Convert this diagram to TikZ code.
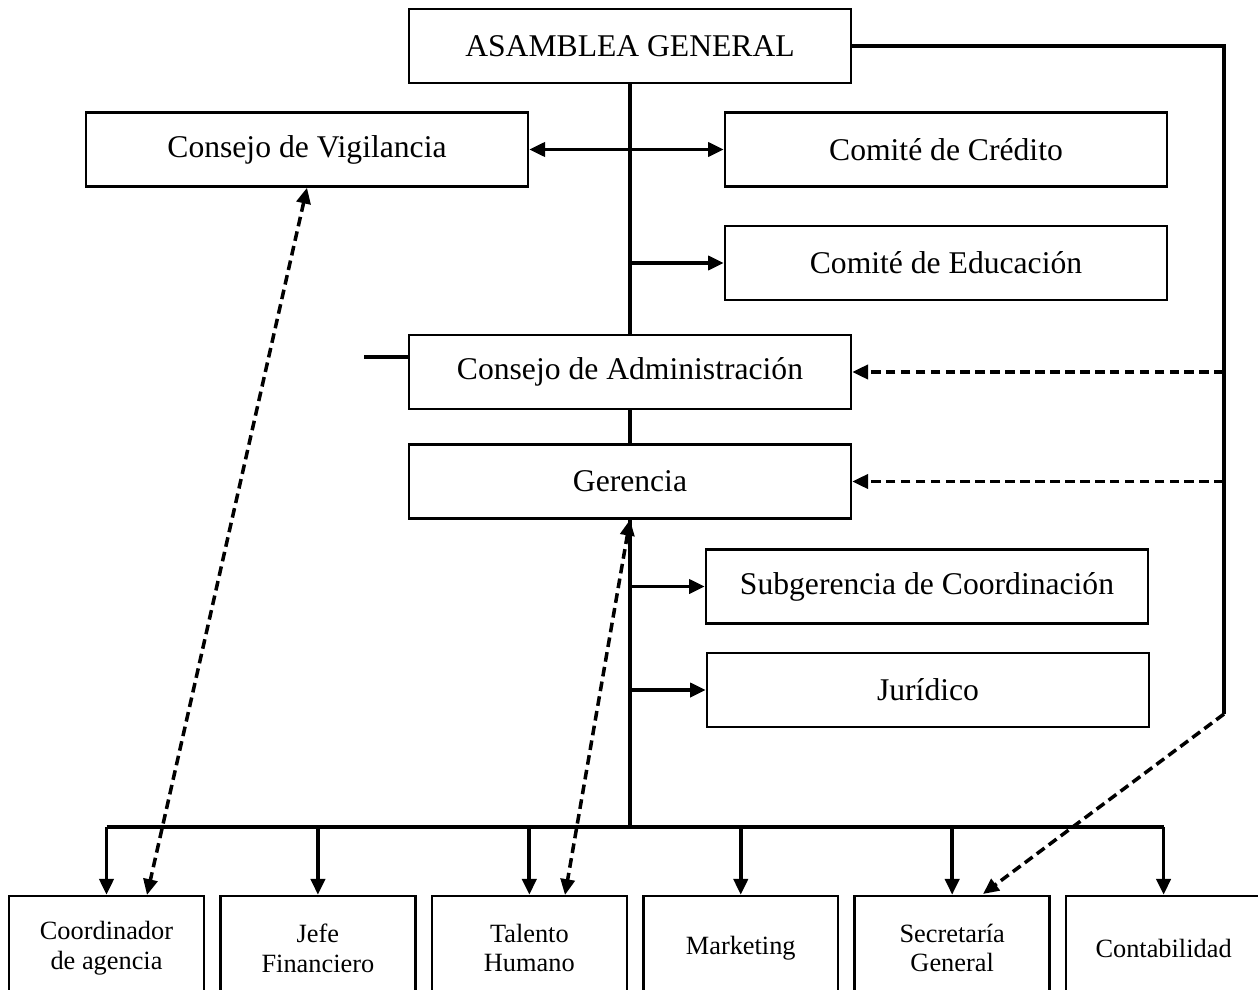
\documentclass[tikz,border=0pt]{standalone}
\usepackage{fontspec}
\setmainfont{Liberation Serif}
\usetikzlibrary{arrows.meta,positioning}

\tikzset{
  unit/.style={draw, line width=1.4pt, minimum width=8.84cm, minimum height=1.48cm, inner sep=2pt, font=\fontsize{18}{22}\selectfont},
  area/.style={draw, line width=1.4pt, minimum width=3.9cm, minimum height=2.08cm, inner sep=2pt, align=center, font=\fontsize{15}{17}\selectfont},
  link/.style={line width=2.1pt},
  dashlink/.style={line width=2pt, dash pattern=on 5.5pt off 3pt},
  tip/.style={-{Triangle[length=9pt,width=8pt]}},
  tips/.style={{Triangle[length=9pt,width=8pt]}-{Triangle[length=9pt,width=8pt]}},
}

\begin{document}
\begin{tikzpicture}[x=0.02cm, y=-0.02cm]
\useasboundingbox (0,0) rectangle (1258,990);
% upper units
\node (asamblea) [unit] at (630,46) {ASAMBLEA GENERAL};
\node (vigilancia) [unit] at (307,149.5) {Consejo de Vigilancia};
\node (credito) [unit] at (946,149.5) {Comité de Crédito};
\node (educacion) [unit] at (946,263) {Comité de Educación};
\node (consejo) [unit] at (630,372) {Consejo de Administración};
\node (gerencia) [unit] at (630,481.5) {Gerencia};
\node (subgerencia) [unit] at (927,586.5) {Subgerencia de Coordinación};
\node (juridico) [unit] at (928,690) {Jurídico};
% bottom row
\node (coord) [area] at (106.5,948) {Coordinador\\de agencia};
\node (jefe) [area, right=0.28cm of coord] {Jefe\\Financiero};
\node (talento) [area, right=0.28cm of jefe] {Talento\\Humano};
\node (marketing) [area, right=0.28cm of talento] {Marketing};
\node (secretaria) [area, right=0.28cm of marketing] {Secretaría\\General};
\node (contab) [area, right=0.28cm of secretaria] {Contabilidad};
% helper points
\coordinate (bus) at (630,827);
\coordinate (stub) at (364,357);
\coordinate (rtop) at (1224,46);
\coordinate (rbot) at (1224,714);
\coordinate (coordtip) at (147,895);
\coordinate (talentotip) at (565,895);
\coordinate (sectip) at (983,894);
% main line
\draw[link] (asamblea) -- (consejo);
\draw[link] (consejo) -- (gerencia);
\draw[link] (gerencia) -- (bus);
\draw[link] (stub) -- (consejo.west |- stub);
\draw[link, tips] (vigilancia) -- (credito);
\draw[link, tip] (asamblea.south |- educacion) -- (educacion);
\draw[link, tip] (gerencia.south |- subgerencia) -- (subgerencia);
\draw[link, tip] (gerencia.south |- juridico) -- (juridico);
% bus to bottom row
\draw[link] (coord.north |- bus) -- (contab.north |- bus);
\path[link, tip] (coord.north |- bus) edge (coord);
\path[link, tip] (jefe.north |- bus) edge (jefe);
\path[link, tip] (talento.north |- bus) edge (talento);
\path[link, tip] (marketing.north |- bus) edge (marketing);
\path[link, tip] (secretaria.north |- bus) edge (secretaria);
\path[link, tip] (contab.north |- bus) edge (contab);
% right side line
\draw[link] (asamblea) -- (rtop) -- (rbot);
\draw[dashlink, tip] (rtop |- consejo) -- (consejo);
\draw[dashlink, tip] (rtop |- gerencia) -- (gerencia);
\draw[dashlink, tip] (rbot) -- (sectip);
% dashed links
\draw[dashlink, tips] (vigilancia.south) -- (coordtip);
\draw[dashlink, tips] (gerencia.south) -- (talentotip);
\end{tikzpicture}
\end{document}
